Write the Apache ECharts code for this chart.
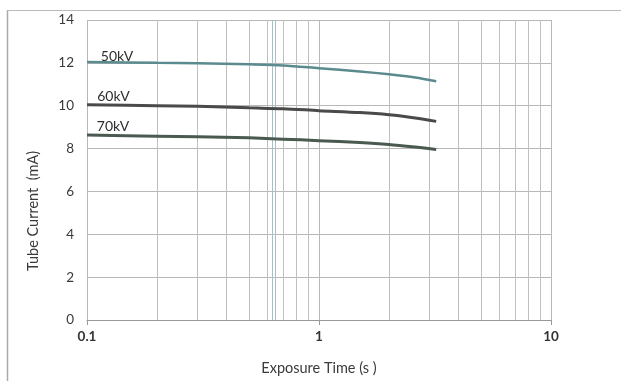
<!DOCTYPE html>
<html>
<head>
<meta charset="utf-8">
<script src="https://cdn.jsdelivr.net/npm/echarts@6/dist/echarts.min.js"></script>
<style>html,body{margin:0;padding:0;background:#fff;}#c{width:621px;height:381px;}</style>
</head>
<body>
<div id="c"></div>
<script>
// Data
var times = [0.1, 0.2, 0.3, 0.5, 0.7, 1, 1.5, 2, 2.6, 3.2];
var kv50 = [12.04, 12.0, 11.98, 11.93, 11.88, 11.75, 11.6, 11.47, 11.32, 11.14];
var kv60 = [10.05, 10.0, 9.97, 9.9, 9.86, 9.77, 9.68, 9.58, 9.43, 9.27];
var kv70 = [8.63, 8.58, 8.55, 8.5, 8.44, 8.37, 8.28, 8.19, 8.07, 7.96];
var seriesNames = ['50kV', '60kV', '70kV'];
var labelPos = [[0.1347, 12.29], [0.130, 10.45], [0.1295, 9.02]];
var minorGrid = [0.2, 0.3, 0.4, 0.5, 0.6, 0.7, 0.8, 0.9, 2, 3, 4, 5, 6, 7, 8, 9];
var scanLines = [0.633, 0.646];
var yTicks = {min: 0, max: 14, interval: 2};
var xTitle = 'Exposure Time (s )';
var yTitle = 'Tube Current  (mA)';

function pairs(xs, ys) { return xs.map(function (x, i) { return [x, ys[i]]; }); }

var font = 'Lato, "Open Sans", sans-serif';
var colors = ['#5b8a8f', '#4a4a4a', '#4a5a51'];
var widths = [2.5, 3, 3];
var values = [kv50, kv60, kv70];

var series = values.map(function (v, i) {
  return {
    name: seriesNames[i], type: 'line', data: pairs(times, v), smooth: 0.3,
    showSymbol: false, symbol: 'none', z: 5,
    lineStyle: {color: colors[i], width: widths[i]},
    markPoint: {
      symbol: 'circle', symbolSize: 0, silent: true,
      label: {show: true, position: 'inside', formatter: seriesNames[i], color: '#2e2e2e', fontSize: 14, fontFamily: font},
      data: [{coord: labelPos[i]}]
    }
  };
});
series.push({
  type: 'line', data: [], silent: true, z: 1,
  markLine: {
    silent: true, symbol: ['none', 'none'], label: {show: false},
    lineStyle: {color: '#c0c0c0', type: 'solid', width: 1},
    data: minorGrid.map(function (x) { return {xAxis: x}; })
  }
});
series.push({
  type: 'line', data: [], silent: true, z: 1,
  markLine: {
    silent: true, symbol: ['none', 'none'], label: {show: false},
    lineStyle: {color: '#a9bfc4', type: 'solid', width: 1},
    data: scanLines.map(function (x) { return {xAxis: x}; })
  }
});

var chart = echarts.init(document.getElementById('c'));
chart.setOption({
  animation: false,
  backgroundColor: '#fff',
  grid: {left: 87, right: 70, top: 20, bottom: 50},
  xAxis: {
    type: 'log', logBase: 10, min: 0.1, max: 10,
    name: xTitle, nameLocation: 'middle', nameGap: 41,
    nameTextStyle: {color: '#3a3a3a', fontSize: 14.5, fontFamily: font},
    axisLine: {show: true, lineStyle: {color: '#999'}},
    axisTick: {show: true, length: 5, lineStyle: {color: '#999'}},
    axisLabel: {color: '#333', fontSize: 13.5, fontWeight: 'bold', fontFamily: font, margin: 10,
      formatter: function (v) { return String(Math.round(v * 10) / 10); }},
    splitLine: {show: true, lineStyle: {color: '#b8b8b8', width: 1}}
  },
  yAxis: {
    type: 'value', min: yTicks.min, max: yTicks.max, interval: yTicks.interval,
    axisLine: {show: false}, axisTick: {show: false},
    axisLabel: {color: '#3a3a3a', fontSize: 13.5, fontFamily: font, margin: 13},
    splitLine: {show: true, lineStyle: {color: '#b8b8b8', width: 1}}
  },
  graphic: [
    {type: 'line', shape: {x1: 7.5, y1: 10, x2: 7.5, y2: 381}, style: {stroke: '#aaa', lineWidth: 1.5}, silent: true},
    {type: 'line', shape: {x1: 7, y1: 10.5, x2: 621, y2: 10.5}, style: {stroke: '#bbb', lineWidth: 1}, silent: true},
    {type: 'text', x: 33, y: 211, rotation: Math.PI / 2, silent: true,
      style: {text: yTitle, fill: '#3a3a3a', font: '14.5px ' + font, textAlign: 'center', textVerticalAlign: 'middle'}}
  ],
  series: series
});
</script>
</body>
</html>
